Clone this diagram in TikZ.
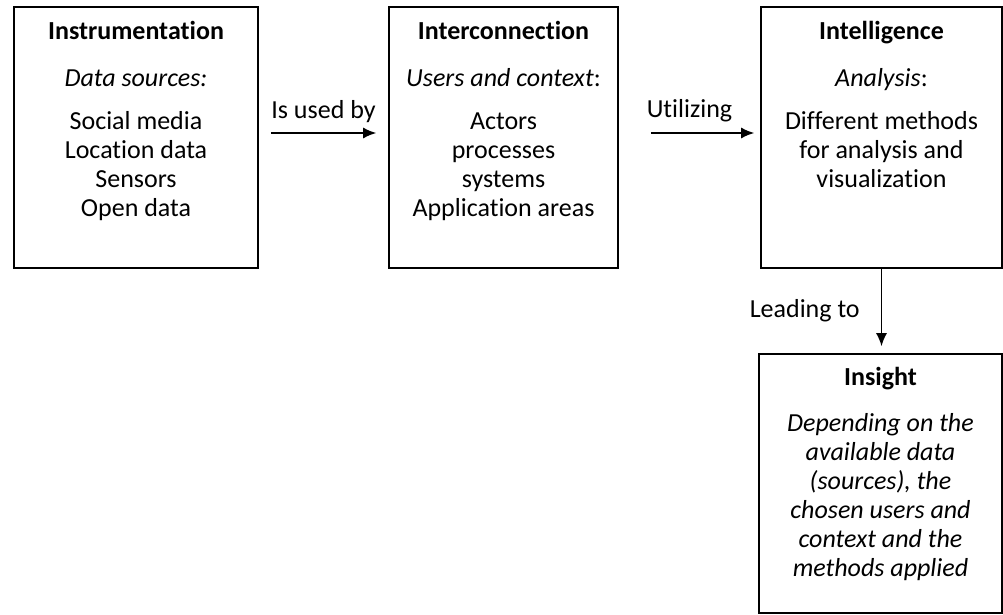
\documentclass[tikz,border=0pt]{standalone}
\usepackage{fontspec}
\setmainfont{Carlito}[Ligatures=NoCommon]
\usetikzlibrary{positioning,arrows.meta}

\begin{document}
\begin{tikzpicture}[x=1pt,y=-1pt,
    frame/.style={draw,line width=1.6pt,inner sep=0pt},
    boxtext/.style={align=center,inner sep=0pt,font=\fontsize{26}{29}\selectfont},
    flow/.style={-{Latex[length=13pt,width=11pt]},line width=1.6pt},
    flowtext/.style={inner sep=0pt,font=\fontsize{26}{29}\selectfont}]
        \useasboundingbox(0,0)rectangle(1003,615);

        % the four boxes
        \node[frame,minimum width=244pt,minimum height=261pt](inst)at(136,137.5){};
        \node[frame,minimum width=229pt,minimum height=261pt](inter)at(503.5,137.5){};
        \node[frame,minimum width=241pt,minimum height=261pt](intel)at(881.5,137.5){};
        \node[frame,minimum width=243pt,minimum height=259pt](insight)at(880.5,483.5){};

        \node[boxtext,below=15pt of inst.north](instText){\textbf{Instrumentation}\\[18pt]\textit{Data sources:}\\[14pt]Social media\\Location data\\Sensors\\Open data};
        \node[boxtext,below=15pt of inter.north](interText){\textbf{Interconnection}\\[18pt]\textit{Users and context}:\\[14pt]Actors\\processes\\systems\\Application areas};
        \node[boxtext,below=15pt of intel.north](intelText){\textbf{Intelligence}\\[18pt]\textit{Analysis}:\\[14pt]Different methods\\for analysis and\\visualization};
        \node[boxtext,below=14pt of insight.north](insightText){\textbf{Insight}\\[17pt]\textit{Depending on the}\\\textit{available data}\\\textit{(sources), the}\\\textit{chosen users and}\\\textit{context and the}\\\textit{methods applied}};

        % connectors
        \draw[flow,shorten <=12pt,shorten >=12pt]([yshift=4.5pt]inst.east)--([yshift=4.5pt]inter.west)node[flowtext,midway,above=10pt]{Is used by};
        \draw[flow,shorten <=32pt,shorten >=6pt]([yshift=4.5pt]inter.east)--([yshift=4.5pt]intel.west)node[flowtext,midway,above=10pt]{Utilizing};
        \draw[flow,shorten >=7pt](intel.south)--(intel.south|-insight.north)node[flowtext,midway,left=21pt]{Leading to};
    \end{tikzpicture}
\end{document}
